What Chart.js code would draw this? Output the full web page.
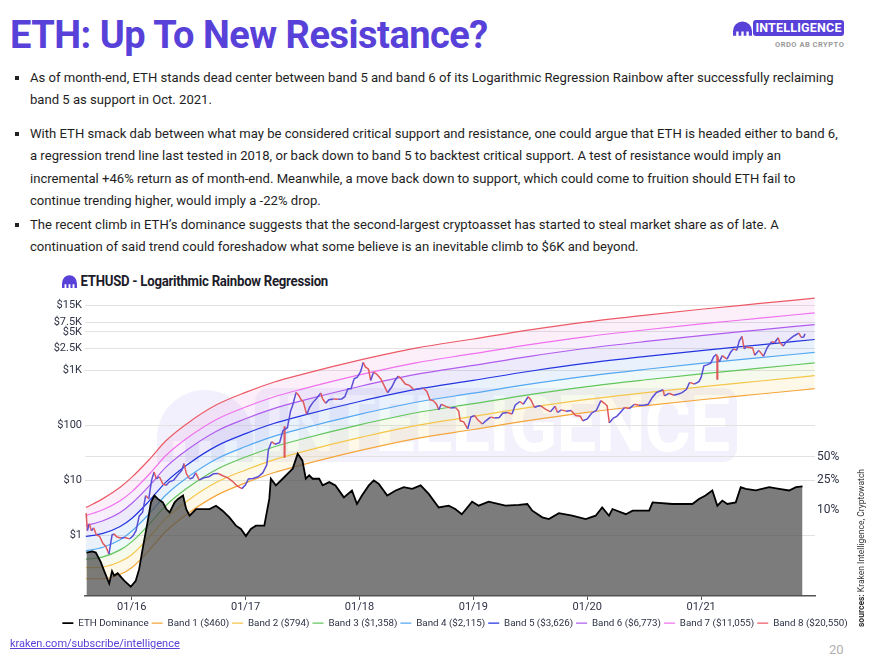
<!DOCTYPE html>
<html>
<head>
<meta charset="utf-8">
<script src="https://cdn.jsdelivr.net/npm/chart.js@4.4.0/dist/chart.umd.min.js"></script>
<style>
  body { margin:0; background:#fff; }
  #page { position:relative; width:870px; height:659px; overflow:hidden; background:#fff; font-family:Roboto, "Noto Sans", sans-serif; }
  .title { position:absolute; left:10px; top:12px; margin:0; font:700 38px/46px Roboto, sans-serif; color:#5841d8; letter-spacing:-0.5px; }
  .brand { position:absolute; left:733px; top:20px; }
  .brand .pill { position:absolute; left:20px; top:0; width:91px; height:16px; background:#5841d8; border-radius:3px; color:#fff; font:700 12.5px/16px Roboto, sans-serif; text-align:center; letter-spacing:0.2px; }
  .brand .sub { position:absolute; left:42px; top:20px; width:80px; font:700 7.5px/9px Roboto, sans-serif; color:#9a9a9a; letter-spacing:0.5px; white-space:nowrap; }
  .bullets p { position:absolute; left:30px; margin:0; font:13.1px/22.4px Roboto, sans-serif; color:#1e1e1e; white-space:nowrap; }
  .bullets p::before { content:""; position:absolute; left:-15px; top:9px; width:4px; height:4px; background:#222; }
  .ctitle { position:absolute; left:62px; top:271px; font:700 15px/20px Roboto, sans-serif; color:#1c1c2a; letter-spacing:-0.3px; transform-origin:0 50%; transform:scaleX(0.88); white-space:nowrap; }
  .ctitle svg { vertical-align:-2px; margin-right:4px; }
  .wm-logo { position:absolute; left:157px; top:390px; opacity:0.07; }
  .wm-box { position:absolute; left:255px; top:388px; width:482px; height:74px; border-radius:14px; background:rgba(88,65,216,0.07); }
  .wm-text { position:absolute; left:264px; top:388px; width:470px; height:74px; font:700 78px/74px Roboto, sans-serif; color:#fff; white-space:nowrap; transform-origin:0 50%; transform:scaleX(0.91); letter-spacing:-1px; }
  #wrap { position:absolute; left:40px; top:287px; width:830px; height:351px; }
  .foot { position:absolute; left:10px; top:637px; font:11px/14px Roboto, sans-serif; color:#5841d8; text-decoration:underline; }
  .pageno { position:absolute; left:829px; top:642px; font:13px/16px Roboto, sans-serif; color:#b0b0b0; }
  .sources { position:absolute; left:856px; top:627px; transform-origin:0 0; transform:rotate(-90deg); font:8.5px/10px Roboto, sans-serif; color:#333; white-space:nowrap; }
</style>
</head>
<body>
<div id="page">
  <h1 class="title">ETH: Up To New Resistance?</h1>
  <div class="brand">
    <svg width="19" height="15" viewBox="0 0 16 12" style="position:absolute;left:0;top:1px"><path fill="#5841d8" d="M0 12V8A8 8 0 0 1 16 8V12H13.3V8.5H11.3V12H9V8.5H7V12H4.7V8.5H2.7V12Z"/></svg>
    <div class="pill">INTELLIGENCE</div>
    <div class="sub">ORDO AB CRYPTO</div>
  </div>
  <div class="bullets">
    <p style="top:67px">As of month-end, ETH stands dead center between band 5 and band 6 of its Logarithmic Regression Rainbow after successfully reclaiming<br>band 5 as support in Oct. 2021.</p>
    <p style="top:123px">With ETH smack dab between what may be considered critical support and resistance, one could argue that ETH is headed either to band 6,<br>a regression trend line last tested in 2018, or back down to band 5 to backtest critical support. A test of resistance would imply an<br>incremental +46% return as of month-end. Meanwhile, a move back down to support, which could come to fruition should ETH fail to<br>continue trending higher, would imply a -22% drop.</p>
    <p style="top:214px">The recent climb in ETH’s dominance suggests that the second-largest cryptoasset has started to steal market share as of late. A<br>continuation of said trend could foreshadow what some believe is an inevitable climb to $6K and beyond.</p>
  </div>
  <div class="ctitle"><svg width="17" height="13" viewBox="0 0 16 12"><path fill="#5841d8" d="M0 12V8A8 8 0 0 1 16 8V12H13.3V8.5H11.3V12H9V8.5H7V12H4.7V8.5H2.7V12Z"/></svg>ETHUSD - Logarithmic Rainbow Regression</div>
  <svg class="wm-logo" width="96" height="72" viewBox="0 0 16 12"><path fill="#5841d8" d="M0 12V8A8 8 0 0 1 16 8V12H13.3V8.5H11.3V12H9V8.5H7V12H4.7V8.5H2.7V12Z"/></svg>
  <div class="wm-box"></div>
  <div class="wm-text">INTELLIGENCE</div>
  <div id="wrap"><canvas id="c"></canvas></div>
  <div class="foot">kraken.com/subscribe/intelligence</div>
  <div class="pageno">20</div>
  <div class="sources"><b>sources:</b> Kraken Intelligence, Cryptowatch</div>
</div>
<script>
// ejes
const xTickValues = [2016, 2017, 2018, 2019, 2020, 2021];
const xTickLabels = ["01/16", "01/17", "01/18", "01/19", "01/20", "01/21"];
const yTickValues = [1, 10, 100, 1000, 2500, 5000, 7500, 15000];
const yTickLabels = ["$1", "$10", "$100", "$1K", "$2.5K", "$5K", "$7.5K", "$15K"];
const y2TickValues = [10, 25, 50];
const y2TickLabels = ["10%", "25%", "50%"];

// bandas de la regresion
const bandDates = ["2015-08-07","2015-10-01","2015-11-25","2016-01-01","2016-02-25","2016-04-20","2016-07-01","2016-10-01","2017-01-01","2017-04-01","2017-07-01","2018-01-01","2018-07-01","2019-01-01","2019-07-01","2020-01-01","2020-07-01","2021-01-01","2021-07-01","2021-12-31"];
const band1 = [0.16, 0.16, 0.193, 0.254, 0.52, 1.17, 2.5, 5.33, 8.89, 13.6, 18.9, 34.3, 56.9, 83.3, 122, 171, 225, 290, 365, 461];
const band2 = [0.254, 0.262, 0.329, 0.438, 0.898, 2.01, 4.31, 9.2, 15.3, 23.4, 32.6, 59.1, 98.1, 144, 210, 294, 388, 499, 630, 795];
const band3 = [0.36, 0.40, 0.536, 0.75, 1.54, 3.45, 7.39, 15.8, 26.3, 40.1, 55.9, 101, 168, 246, 360, 504, 664, 855, 1079, 1361];
const band4 = [0.514, 0.60, 0.82, 1.17, 2.39, 5.36, 11.5, 24.5, 40.8, 62.4, 86.9, 157, 261, 382, 559, 783, 1032, 1329, 1677, 2116];
const band5 = [0.94, 1.07, 1.43, 2.0, 4.1, 9.2, 19.7, 42, 70, 107, 149, 270, 448, 656, 959, 1343, 1770, 2280, 2876, 3630];
const band6 = [1.48, 1.82, 2.57, 3.74, 7.67, 17.2, 36.8, 78.5, 131, 200, 279, 505, 838, 1227, 1793, 2511, 3310, 4264, 5378, 6788];
const band7 = [2.26, 2.89, 4.2, 6.1, 12.5, 28, 60, 128, 214, 326, 454, 824, 1366, 2000, 2925, 4096, 5400, 6954, 8772, 11070];
const band8 = [3.16, 4.6, 7.4, 11.2, 23.2, 52, 111, 237, 396, 605, 842, 1526, 2531, 3706, 5418, 7588, 10000, 12880, 16250, 20510];
const bandLabels = ["Band 1 ($460)", "Band 2 ($794)", "Band 3 ($1,358)", "Band 4 ($2,115)", "Band 5 ($3,626)", "Band 6 ($6,773)", "Band 7 ($11,055)", "Band 8 ($20,550)"];

// precio ETHUSD
const priceDates = ["2015-08-08","2015-08-12","2015-08-18","2015-08-25","2015-09-01","2015-09-10","2015-09-20","2015-10-01","2015-10-10","2015-10-20","2015-10-30","2015-11-05","2015-11-15","2015-11-28","2015-12-10","2015-12-25",
"2016-01-05","2016-01-15","2016-01-25","2016-02-05","2016-02-15","2016-02-25","2016-03-05","2016-03-13","2016-03-20","2016-03-30","2016-04-10","2016-04-20","2016-05-01","2016-05-15","2016-05-30","2016-06-10","2016-06-17","2016-06-25","2016-07-05","2016-07-15","2016-07-25","2016-08-05","2016-08-20","2016-09-05","2016-09-20","2016-10-05","2016-10-20","2016-11-05","2016-11-20","2016-12-05","2016-12-20",
"2017-01-01","2017-01-10","2017-01-25","2017-02-10","2017-02-25","2017-03-10","2017-03-15","2017-03-25","2017-04-05","2017-04-20","2017-05-01","2017-05-15","2017-05-25","2017-06-01","2017-06-12","2017-06-20","2017-06-28","2017-07-05","2017-07-16","2017-07-25","2017-08-05","2017-08-15","2017-08-30","2017-09-05","2017-09-15","2017-09-25","2017-10-10","2017-10-25","2017-11-05","2017-11-15","2017-11-25","2017-12-05","2017-12-15","2017-12-25",
"2018-01-05","2018-01-13","2018-01-20","2018-01-30","2018-02-06","2018-02-15","2018-02-25","2018-03-10","2018-03-20","2018-04-01","2018-04-15","2018-04-25","2018-05-05","2018-05-15","2018-05-28","2018-06-10","2018-06-25","2018-07-10","2018-07-25","2018-08-05","2018-08-15","2018-08-25","2018-09-05","2018-09-12","2018-09-20","2018-10-05","2018-10-20","2018-11-05","2018-11-15","2018-11-20","2018-12-01","2018-12-14","2018-12-24",
"2019-01-05","2019-01-15","2019-01-30","2019-02-10","2019-02-25","2019-03-10","2019-03-25","2019-04-05","2019-04-20","2019-05-05","2019-05-15","2019-05-30","2019-06-10","2019-06-26","2019-07-05","2019-07-16","2019-07-25","2019-08-05","2019-08-20","2019-09-05","2019-09-20","2019-09-28","2019-10-10","2019-10-25","2019-11-10","2019-11-25","2019-12-10","2019-12-18",
"2020-01-01","2020-01-15","2020-01-30","2020-02-14","2020-02-25","2020-03-05","2020-03-12","2020-03-25","2020-04-05","2020-04-20","2020-04-30","2020-05-15","2020-06-01","2020-06-15","2020-07-01","2020-07-15","2020-07-28","2020-08-10","2020-08-20","2020-09-01","2020-09-05","2020-09-20","2020-10-05","2020-10-20","2020-11-01","2020-11-15","2020-11-25","2020-12-10","2020-12-25",
"2021-01-01","2021-01-10","2021-01-20","2021-02-01","2021-02-10","2021-02-19","2021-02-28","2021-03-10","2021-03-25","2021-04-05","2021-04-15","2021-04-25","2021-05-03","2021-05-12","2021-05-19","2021-05-25","2021-06-05","2021-06-15","2021-06-22","2021-07-05","2021-07-20","2021-08-01","2021-08-15","2021-08-25","2021-09-05","2021-09-10","2021-09-21","2021-10-01","2021-10-15","2021-10-25","2021-11-10","2021-11-18","2021-11-26","2021-11-30"];
const priceValues = [2.5,1.2,1.6,1.2,1.35,1.0,0.95,0.7,0.62,0.45,1.0,1.05,0.92,0.88,0.9,0.85,
0.96,1.2,2.2,2.6,5.2,4.6,10,14,10.5,11.5,8.5,8,9.3,10,12.8,15,20,13,10.5,11,13.5,10,11,11.5,13,13.2,12,11,9.5,7.8,7.0,
8.2,10.5,10.7,11.5,13.5,19,35,50,45,48,80,90,180,230,395,350,290,265,155,210,260,300,385,300,250,290,300,295,300,330,460,460,700,750,
950,1390,1150,1050,650,920,850,700,540,390,500,650,780,700,560,530,440,460,470,410,290,280,240,190,240,220,205,210,180,120,115,86,140,
150,125,105,120,140,135,138,165,170,160,230,270,240,330,285,210,220,225,195,175,220,170,190,180,185,150,145,120,
130,165,185,280,250,225,110,135,145,180,210,200,240,230,230,240,320,390,415,440,340,380,350,370,390,450,600,560,620,
740,1200,1250,1350,1750,1950,1420,1850,1590,2100,2450,2300,3400,4150,2450,2650,2600,2550,1880,2300,1800,2600,3300,3200,3900,3200,2750,3300,3800,4200,4750,3950,4050,4630];

// mechas extremas
const wickDates = ["2017-05-06", "2021-02-22"];
const wickLows = [26, 683];
const wickHighs = [94, 1800];

// dominancia de ETH (%)
const domDates = ["2015-08-09","2015-08-28","2015-09-08","2015-09-24","2015-10-05","2015-10-21","2015-10-30","2015-11-06","2015-11-17","2015-12-08","2015-12-29",
"2016-01-14","2016-01-25","2016-02-05","2016-02-21","2016-03-03","2016-03-14","2016-03-25","2016-04-10","2016-04-21","2016-05-02","2016-05-18","2016-05-29","2016-06-14","2016-06-24","2016-07-05","2016-07-26","2016-08-17","2016-09-07","2016-09-28","2016-10-19","2016-11-10","2016-12-01","2016-12-17",
"2017-01-02","2017-01-18","2017-02-03","2017-02-19","2017-03-02","2017-03-18","2017-03-23","2017-04-08","2017-04-30","2017-05-21","2017-06-01","2017-06-17","2017-07-02","2017-07-13","2017-07-24","2017-08-04","2017-08-25","2017-09-05","2017-09-26","2017-10-16","2017-11-12","2017-12-08","2017-12-24",
"2018-01-09","2018-01-31","2018-02-16","2018-03-04","2018-03-31","2018-04-27","2018-05-23","2018-06-19","2018-07-16","2018-08-11","2018-09-12","2018-10-14","2018-11-04","2018-11-25","2018-12-28",
"2019-01-18","2019-02-19","2019-04-14","2019-05-27","2019-06-23","2019-07-09","2019-08-10","2019-08-31","2019-10-02","2019-11-14","2019-12-27",
"2020-01-28","2020-02-18","2020-03-11","2020-03-22","2020-05-04","2020-05-26","2020-07-18","2020-07-29","2020-10-01","2020-12-04","2020-12-25",
"2021-01-15","2021-02-06","2021-02-22","2021-03-10","2021-03-26","2021-04-22","2021-05-08","2021-05-24","2021-06-25","2021-08-07","2021-09-08","2021-10-10","2021-11-01","2021-11-22"];
const domValues = [2.8,2.9,2.8,2.1,1.6,1.1,1.6,1.4,1.5,1.2,1.0,
1.2,1.7,3.1,7.0,12.7,15.6,14.1,12.7,10.4,9.4,12.7,14.1,15.6,10.4,8.5,10.4,10.4,10.4,11.5,9.9,8.1,6.3,5.7,
4.6,5.7,6.3,6.3,6.3,14.1,25.9,21.2,25.9,31.7,35.1,55,45,25.9,28.7,25.9,25.9,21.2,23.4,21.2,14.8,18.2,12.1,
15.6,21.2,24.6,22.2,15.6,18.2,20.1,19.1,21.2,16.4,10.9,11.5,10.4,8.9,13.0,
11.5,13.0,11.5,11.8,12.1,9.9,8.1,7.7,9.2,8.5,7.7,
8.5,10.9,8.5,10.4,8.9,9.9,9.9,12.7,12.1,12.1,14.1,
15.6,18.2,11.5,13.4,12.1,12.7,20.1,19.1,18.2,20.1,19.1,18.2,20.1,20.6];

// colores
const bandColors = ["#f5a53a", "#f6c64a", "#62c65c", "#55a8f2", "#2335e0", "#b05cef", "#f070ef", "#ec5a66"];
const bandFills = [null, "rgba(246,198,74,0.13)", "rgba(180,215,100,0.12)", "rgba(110,195,200,0.10)", "rgba(85,150,240,0.13)", "rgba(95,85,225,0.12)", "rgba(190,95,235,0.10)", "rgba(240,100,200,0.10)"];

function toYear(s) {
    const d = Date.parse(s + "T00:00:00Z");
    const y = Number(s.slice(0, 4));
    const a = Date.UTC(y, 0, 1), b = Date.UTC(y + 1, 0, 1);
    return y + (d - a) / (b - a);
}

const bands = [band1, band2, band3, band4, band5, band6, band7, band8];
const bandX = bandDates.map(toYear);
const datasets = [];
bands.forEach(function (band, i) {
    datasets.push({
        label: bandLabels[i],
        data: band.map((v, j) => ({ x: bandX[j], y: v })),
        yAxisID: "y",
        borderColor: bandColors[i],
        backgroundColor: bandFills[i] || "rgba(0,0,0,0)",
        borderWidth: 1.2,
        pointRadius: 0,
        cubicInterpolationMode: "monotone",
        fill: i === 0 ? false : "-1",
        pointStyle: "line",
        order: 10
    });
});
datasets.push({
    label: "ETH Dominance",
    data: domValues.map((v, j) => ({ x: toYear(domDates[j]), y: v })),
    yAxisID: "y2",
    borderColor: "#000",
    backgroundColor: "rgba(78,78,78,0.74)",
    borderWidth: 1.8,
    pointRadius: 0,
    fill: "start",
    pointStyle: "line",
    order: 5
});
datasets.push({
    label: "",
    data: priceValues.map((v, j) => ({ x: toYear(priceDates[j]), y: v })),
    yAxisID: "y",
    borderColor: "#5a4fd6",
    borderWidth: 1.5,
    pointRadius: 0,
    fill: false,
    segment: {
        borderColor: c => c.p1.parsed.y < c.p0.parsed.y ? "#e0595c" : "#5a4fd6"
    },
    order: 1
});
datasets.push({
    type: "bar",
    label: "",
    data: wickDates.map((d, j) => ({ x: toYear(d), y: [wickLows[j], wickHighs[j]] })),
    yAxisID: "y",
    backgroundColor: "#e0595c",
    barThickness: 1.5,
    grouped: false,
    order: 2
});

const legendRank = [1, 2, 3, 4, 5, 6, 7, 8, 0, 9, 10];

new Chart(document.getElementById("c"), {
    type: "line",
    data: { datasets: datasets },
    options: {
        animation: false,
        responsive: true,
        maintainAspectRatio: false,
        layout: { padding: { top: 4 } },
        scales: {
            x: {
                type: "linear",
                offset: false,
                min: 2015.59,
                max: 2022.0,
                afterBuildTicks: s => { s.ticks = xTickValues.map(v => ({ value: v })); },
                ticks: {
                    callback: (v, i) => xTickLabels[i],
                    color: "#2e3245",
                    font: { family: "Roboto", size: 11 },
                    maxRotation: 0,
                    padding: 1
                },
                grid: { drawOnChartArea: false, drawTicks: true, tickLength: 4, color: "#555", offset: false },
                border: { display: true, color: "#555", width: 1.5 }
            },
            y: {
                type: "logarithmic",
                position: "left",
                min: 0.0776,
                max: 21900,
                afterBuildTicks: s => { s.ticks = yTickValues.map(v => ({ value: v })); },
                ticks: {
                    callback: (v, i) => yTickLabels[i],
                    color: "#2e3245",
                    font: { family: "Roboto", size: 11 },
                    padding: 3,
                    autoSkip: false
                },
                grid: { color: "#e2e2e2", drawTicks: false },
                border: { display: false },
                afterFit: s => { s.width = 45; }
            },
            y2: {
                type: "logarithmic",
                position: "right",
                min: 0.757,
                max: 6260,
                afterBuildTicks: s => { s.ticks = y2TickValues.map(v => ({ value: v })); },
                ticks: {
                    callback: (v, i) => y2TickLabels[i],
                    color: "#2e3245",
                    font: { family: "Roboto", size: 12 },
                    padding: 2,
                    autoSkip: false
                },
                grid: {
                    color: c => (c.tick && c.tick.value === 50) ? "#e2e2e2" : "rgba(0,0,0,0)",
                    drawTicks: false
                },
                border: { display: false },
                afterFit: s => { s.width = 55; }
            }
        },
        plugins: {
            tooltip: { enabled: false },
            legend: {
                position: "bottom",
                labels: {
                    usePointStyle: true,
                    pointStyleWidth: 11,
                    boxHeight: 6,
                    padding: 3,
                    color: "#2e3245",
                    font: { family: "Roboto", size: 9.8 },
                    filter: item => !!item.text,
                    sort: (a, b) => legendRank[a.datasetIndex] - legendRank[b.datasetIndex]
                }
            }
        }
    }
});
</script>
</body>
</html>
